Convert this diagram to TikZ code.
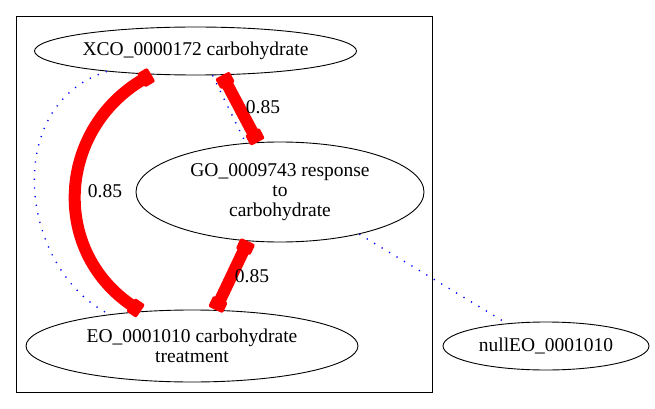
\documentclass[tikz,border=0pt]{standalone}
\usepackage{fontspec}
\setmainfont{Liberation Serif}
\usepackage{tikz}
\usetikzlibrary{positioning,shapes,arrows.meta}
\definecolor{wred}{rgb}{1,0,0}
\definecolor{nblue}{rgb}{0,0,1}
\tikzstyle{term} = [draw, line width=0.9pt, ellipse, inner sep=0pt, align=center,
    font=\fontsize{19.5}{20}\selectfont]
\tikzstyle{score} = [inner sep=0pt, font=\fontsize{19.5}{20}\selectfont]
\tikzstyle{weight} = [draw=wred, line width=12pt,
    {Square[length=12pt,width=16pt,line width=4pt,round]}-{Square[length=12pt,width=16pt,line width=4pt,round]}]
\tikzstyle{nolink} = [draw=nblue, line width=1.4pt, dash pattern=on 1.2pt off 7.5pt]

\begin{document}
\begin{tikzpicture}[x=1pt,y=-1pt]
\useasboundingbox (0,0) rectangle (655,409);
% cluster
\draw[line width=0.9pt] (16.5,16) rectangle (432.5,392);

\node (xco) [term, minimum width=322pt, minimum height=48pt] at (195.5,51) {XCO\_0000172 carbohydrate};
\node (go) [term, minimum width=288pt, minimum height=100pt] at (280,192) {GO\_0009743 response\\to\\carbohydrate};
\node (eo) [term, minimum width=332pt, minimum height=72pt] at (192,346) {EO\_0001010 carbohydrate\\treatment};
\node (nul) [term, minimum width=206pt, minimum height=48pt] at (546,346) {nullEO\_0001010};

% dotted links
\draw[nolink] (xco.-167) .. controls (0,105) and (20,270) .. (eo.159);
\draw[nolink] (xco.-55) -- (go.125);
\draw[nolink] (go.-28) -- (nul.150);

% weighted links
\draw[weight] (xco.-152) .. controls (58,130) and (50,250) .. (eo.146.7);
\draw[weight] (xco.-42) -- (go.114);
\draw[weight] (go.-123) -- (eo.57);

\node (w1) [score] at (105,191) {0.85};
\node (w2) [score] at (263,107) {0.85};
\node (w3) [score] at (252,276) {0.85};
\end{tikzpicture}
\end{document}
